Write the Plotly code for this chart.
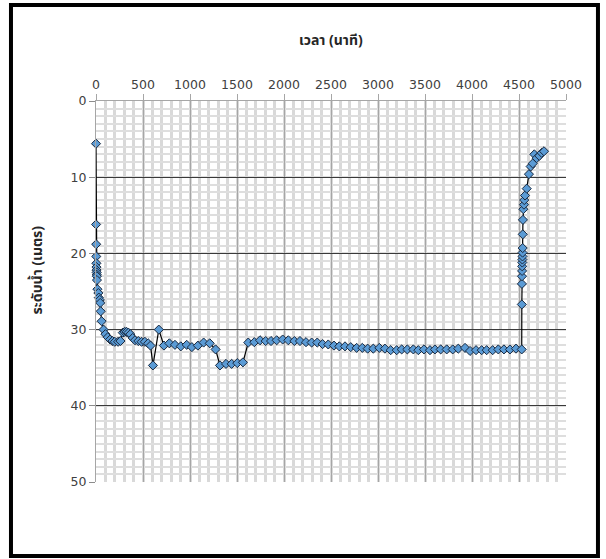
import plotly.graph_objects as go

# time (minutes)
time_min = [0, 1, 2, 3, 4, 5, 6, 7, 8, 9, 10, 15, 25, 30, 40, 45, 50, 60, 80, 100,
            125, 150, 175, 200, 235, 260, 285, 305, 325, 345, 365, 390, 415, 450, 485,
            520, 555, 580, 606, 668, 723, 780, 840, 902, 965, 1020, 1084, 1145, 1210,
            1272, 1319, 1383, 1443, 1503, 1563, 1620, 1684, 1745, 1805, 1862, 1922,
            1986, 2046, 2110, 2170, 2234, 2294, 2354, 2411, 2471, 2532, 2588, 2649,
            2710, 2773, 2833, 2890, 2950, 3014, 3074, 3135, 3199, 3252, 3312, 3376,
            3429, 3489, 3553, 3606, 3667, 3731, 3795, 3854, 3926, 3979, 4043, 4103,
            4156, 4220, 4280, 4340, 4404, 4468, 4529, 4530, 4531, 4532, 4533, 4534,
            4535, 4536, 4537, 4538, 4539, 4540, 4542, 4546, 4553, 4556, 4564, 4582,
            4606, 4624, 4646, 4663, 4688, 4716, 4741, 4766]

# water level (metres)
level_m = [5.6, 16.2, 18.8, 20.4, 21.3, 21.8, 22.2, 22.5, 22.8, 23.0, 23.5, 24.7, 25.2,
           25.8, 26.1, 26.5, 27.6, 28.9, 30.0, 30.6, 31.0, 31.3, 31.5, 31.6, 31.6, 31.5,
           30.4, 30.3, 30.3, 30.4, 30.6, 31.1, 31.4, 31.5, 31.6, 31.6, 31.8, 32.1, 34.7,
           30.0, 32.1, 31.8, 32.0, 32.2, 32.0, 32.3, 32.1, 31.7, 31.8, 32.6, 34.7, 34.5,
           34.5, 34.4, 34.3, 31.7, 31.65, 31.4, 31.5, 31.5, 31.4, 31.3, 31.4, 31.5, 31.5,
           31.65, 31.7, 31.7, 31.9, 31.95, 32.1, 32.2, 32.2, 32.3, 32.4, 32.4, 32.5, 32.5,
           32.4, 32.5, 32.7, 32.7, 32.6, 32.6, 32.6, 32.7, 32.6, 32.7, 32.6, 32.6, 32.6,
           32.6, 32.5, 32.4, 32.8, 32.7, 32.7, 32.7, 32.7, 32.6, 32.6, 32.6, 32.5, 32.6,
           26.7, 24.0, 23.0, 22.3, 21.7, 21.2, 20.8, 20.4, 19.9, 19.3, 17.5, 15.6, 14.2,
           13.6, 13.0, 12.4, 11.5, 9.6, 8.6, 8.2, 7.0, 7.5, 7.2, 6.8, 6.6]

x_ticks = [0, 500, 1000, 1500, 2000, 2500, 3000, 3500, 4000, 4500, 5000]
y_ticks = [0, 10, 20, 30, 40, 50]

x_title = "เวลา (นาที)"
y_title = "ระดับน้ำ (เมตร)"

THAI = "Tahoma, 'Noto Sans Thai', 'Leelawadee UI', 'DejaVu Sans', sans-serif"
TICKFONT = dict(family="'DejaVu Sans', Tahoma, sans-serif", size=12.5, color="#404040")

fig = go.Figure()
fig.add_trace(go.Scatter(
    x=time_min, y=level_m, mode="lines+markers",
    line=dict(color="#000000", width=1.2),
    marker=dict(symbol="diamond", size=7, color="#5b9bd5",
                line=dict(color="#1a2a40", width=1)),
    cliponaxis=False, showlegend=False,
))

fig.update_layout(
    width=606, height=559,
    margin=dict(l=96, r=40, t=101, b=77),
    paper_bgcolor="white", plot_bgcolor="white",
    xaxis=dict(
        side="top", range=[0, 5000], tickvals=x_ticks,
        ticktext=[str(v) for v in x_ticks], tickfont=TICKFONT,
        showgrid=True, gridcolor="#a6a6a6", gridwidth=1,
        minor=dict(dtick=100, showgrid=True, gridcolor="#d9d9d9", gridwidth=2.5),
        ticks="outside", ticklen=6, tickcolor="#a6a6a6",
        showline=True, linecolor="#a6a6a6", linewidth=1,
        zeroline=False,
    ),
    yaxis=dict(
        range=[50, 0], tickvals=y_ticks, ticktext=[str(v) for v in y_ticks],
        tickfont=TICKFONT,
        showgrid=True, gridcolor="#3a3a3a", gridwidth=1.2,
        minor=dict(dtick=1, showgrid=True, gridcolor="#dedede", gridwidth=2),
        ticks="outside", ticklen=6, tickcolor="#8c8c8c",
        showline=True, linecolor="#a6a6a6", linewidth=1,
        zeroline=False,
    ),
    annotations=[
        dict(text="<b>" + x_title + "</b>", xref="paper", yref="paper",
             x=0.5, y=1.160, xanchor="center", yanchor="middle", showarrow=False,
             font=dict(family=THAI, size=14, color="#262626")),
        dict(text="<b>" + y_title + "</b>", xref="paper", yref="paper",
             x=-0.125, y=0.556, xanchor="center", yanchor="middle", showarrow=False,
             textangle=-90, font=dict(family=THAI, size=14, color="#262626")),
    ],
    shapes=[
        dict(type="rect", xref="paper", yref="paper",
             x0=-0.1809, x1=1.068, y0=-0.194, y1=1.252,
             line=dict(color="#000000", width=4), fillcolor="rgba(0,0,0,0)",
             layer="above"),
    ],
)

fig.write_html("out.html", config={"displayModeBar": False},
               post_script="document.body.style.margin='0';document.body.style.overflow='hidden';")
